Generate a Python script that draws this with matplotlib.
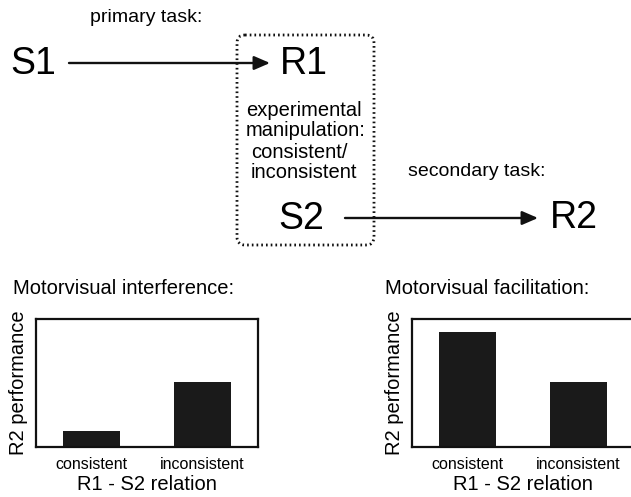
import matplotlib
matplotlib.use("Agg")
import matplotlib.pyplot as plt
from matplotlib.patches import FancyBboxPatch, FancyArrowPatch

plt.rcParams['font.family'] = ['Liberation Sans', 'DejaVu Sans']

categories = ['consistent', 'inconsistent']
interference = [0.125, 0.51]
facilitation = [0.9, 0.51]
panel_titles = ['Motorvisual interference:', 'Motorvisual facilitation:']
xlabel = 'R1 - S2 relation'
ylabel = 'R2 performance'

W, H = 631, 497
fig = plt.figure(figsize=(W / 100, H / 100), dpi=100)

# Diagram overlay in pixel coordinates
ov = fig.add_axes([0, 0, 1, 1])
ov.set_xlim(0, W)
ov.set_ylim(H, 0)
ov.axis('off')

big = 27
med = 14.5
ov.text(10, 64, 'S1', fontsize=big, ha='left', va='center')
ov.text(280, 64, 'R1', fontsize=big, ha='left', va='center')
ov.text(278, 219, 'S2', fontsize=big, ha='left', va='center')
ov.text(550, 218, 'R2', fontsize=big, ha='left', va='center')
ov.text(90, 18, 'primary task:', fontsize=14, ha='left', va='center')
ov.text(408, 172, 'secondary task:', fontsize=14, ha='left', va='center')

for (x, y, s) in [(246, 110, 'experimental'), (246, 131, 'manipulation:'),
                  (251, 152, 'consistent/'), (251, 173, 'inconsistent')]:
    ov.text(x, y, s, fontsize=med, ha='left', va='center')

for (x0, x1, y) in [(69, 270, 63), (345, 538, 218)]:
    ar = FancyArrowPatch((x0, y), (x1, y), arrowstyle='-|>,head_length=6,head_width=2.6',
                         mutation_scale=1.6, lw=1.7, color='#111111', shrinkA=0, shrinkB=0)
    ov.add_patch(ar)

box = FancyBboxPatch((237, 35), 137, 210, boxstyle='round,pad=0,rounding_size=8',
                     fill=False, lw=2.0, ls=(0, (0.6, 1.1)), ec='#111111')
ov.add_patch(box)

# Bar panels
def panel(left_px, width_px, values, title, title_x):
    ax = fig.add_axes([left_px / W, (H - 447) / H, width_px / W, 128 / H])
    ax.bar(range(len(categories)), values, width=0.51, color='#1a1a1a')
    ax.set_xlim(-0.5, -0.5 + 2.0 * width_px / 222)
    ax.set_ylim(0, 1)
    ax.set_yticks([])
    ax.set_xticks(range(len(categories)))
    ax.set_xticklabels(categories, fontsize=11.5)
    ax.tick_params(axis='x', length=0, pad=7)
    for s in ax.spines.values():
        s.set_linewidth(1.6)
        s.set_color('#111111')
    ax.set_xlabel(xlabel, fontsize=med)
    ax.set_ylabel(ylabel, fontsize=med, labelpad=6)
    ax.xaxis.set_label_coords(111 / width_px, -0.215)
    fig.text(title_x / W, 1 - 288 / H, title, fontsize=med, ha='left', va='center')
    return ax

panel(36, 222, interference, panel_titles[0], 13)
panel(412, 228, facilitation, panel_titles[1], 385)

fig.savefig('out.png', dpi=100)
